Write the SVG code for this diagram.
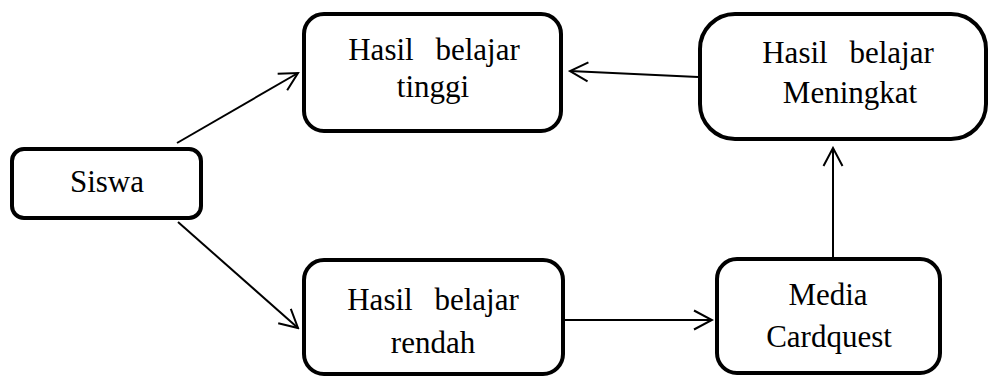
<svg xmlns="http://www.w3.org/2000/svg" width="989" height="378" viewBox="0 0 989 378">
<style>
.box{fill:#fff;stroke:#000;stroke-width:4}
.t{font-family:"Liberation Serif","Times New Roman",serif;font-size:31px;fill:#000;text-anchor:middle}
.w{word-spacing:14px}
.c{stroke:#000;stroke-width:2;fill:none;marker-end:url(#arr)}
</style>
<defs>
<marker id="arr" viewBox="-20 -12 22 24" refX="0" refY="0" markerWidth="22" markerHeight="24" markerUnits="userSpaceOnUse" orient="auto">
<path d="M-18,-9.5 L0,0 L-18,9.5" fill="none" stroke="#000" stroke-width="2"/>
</marker>
</defs>
<rect width="989" height="378" fill="#fff"/>
<g id="connectors">
<line class="c" x1="177" y1="143" x2="298" y2="73"/>
<line class="c" x1="178" y1="222" x2="298" y2="328"/>
<line class="c" x1="698" y1="77" x2="570" y2="71"/>
<line class="c" x1="565" y1="320" x2="712" y2="320"/>
<line class="c" x1="833" y1="257" x2="833" y2="148"/>
</g>
<g id="siswa">
<rect class="box" x="12" y="149" width="189" height="69" rx="12"/>
<text class="t" x="107" y="192">Siswa</text>
</g>
<g id="tinggi">
<rect class="box" x="304" y="14" width="257" height="117" rx="20"/>
<text class="t w" x="434" y="60">Hasil belajar</text>
<text class="t" x="433" y="97">tinggi</text>
</g>
<g id="meningkat">
<rect class="box" x="700" y="14" width="286" height="125" rx="35"/>
<text class="t w" x="848" y="63">Hasil belajar</text>
<text class="t" x="850" y="103">Meningkat</text>
</g>
<g id="rendah">
<rect class="box" x="304" y="260" width="259" height="114" rx="20"/>
<text class="t w" x="433" y="310">Hasil belajar</text>
<text class="t" x="433" y="353">rendah</text>
</g>
<g id="media">
<rect class="box" x="717" y="259" width="223" height="114" rx="20"/>
<text class="t" x="828" y="305">Media</text>
<text class="t" x="829" y="347">Cardquest</text>
</g>
</svg>
